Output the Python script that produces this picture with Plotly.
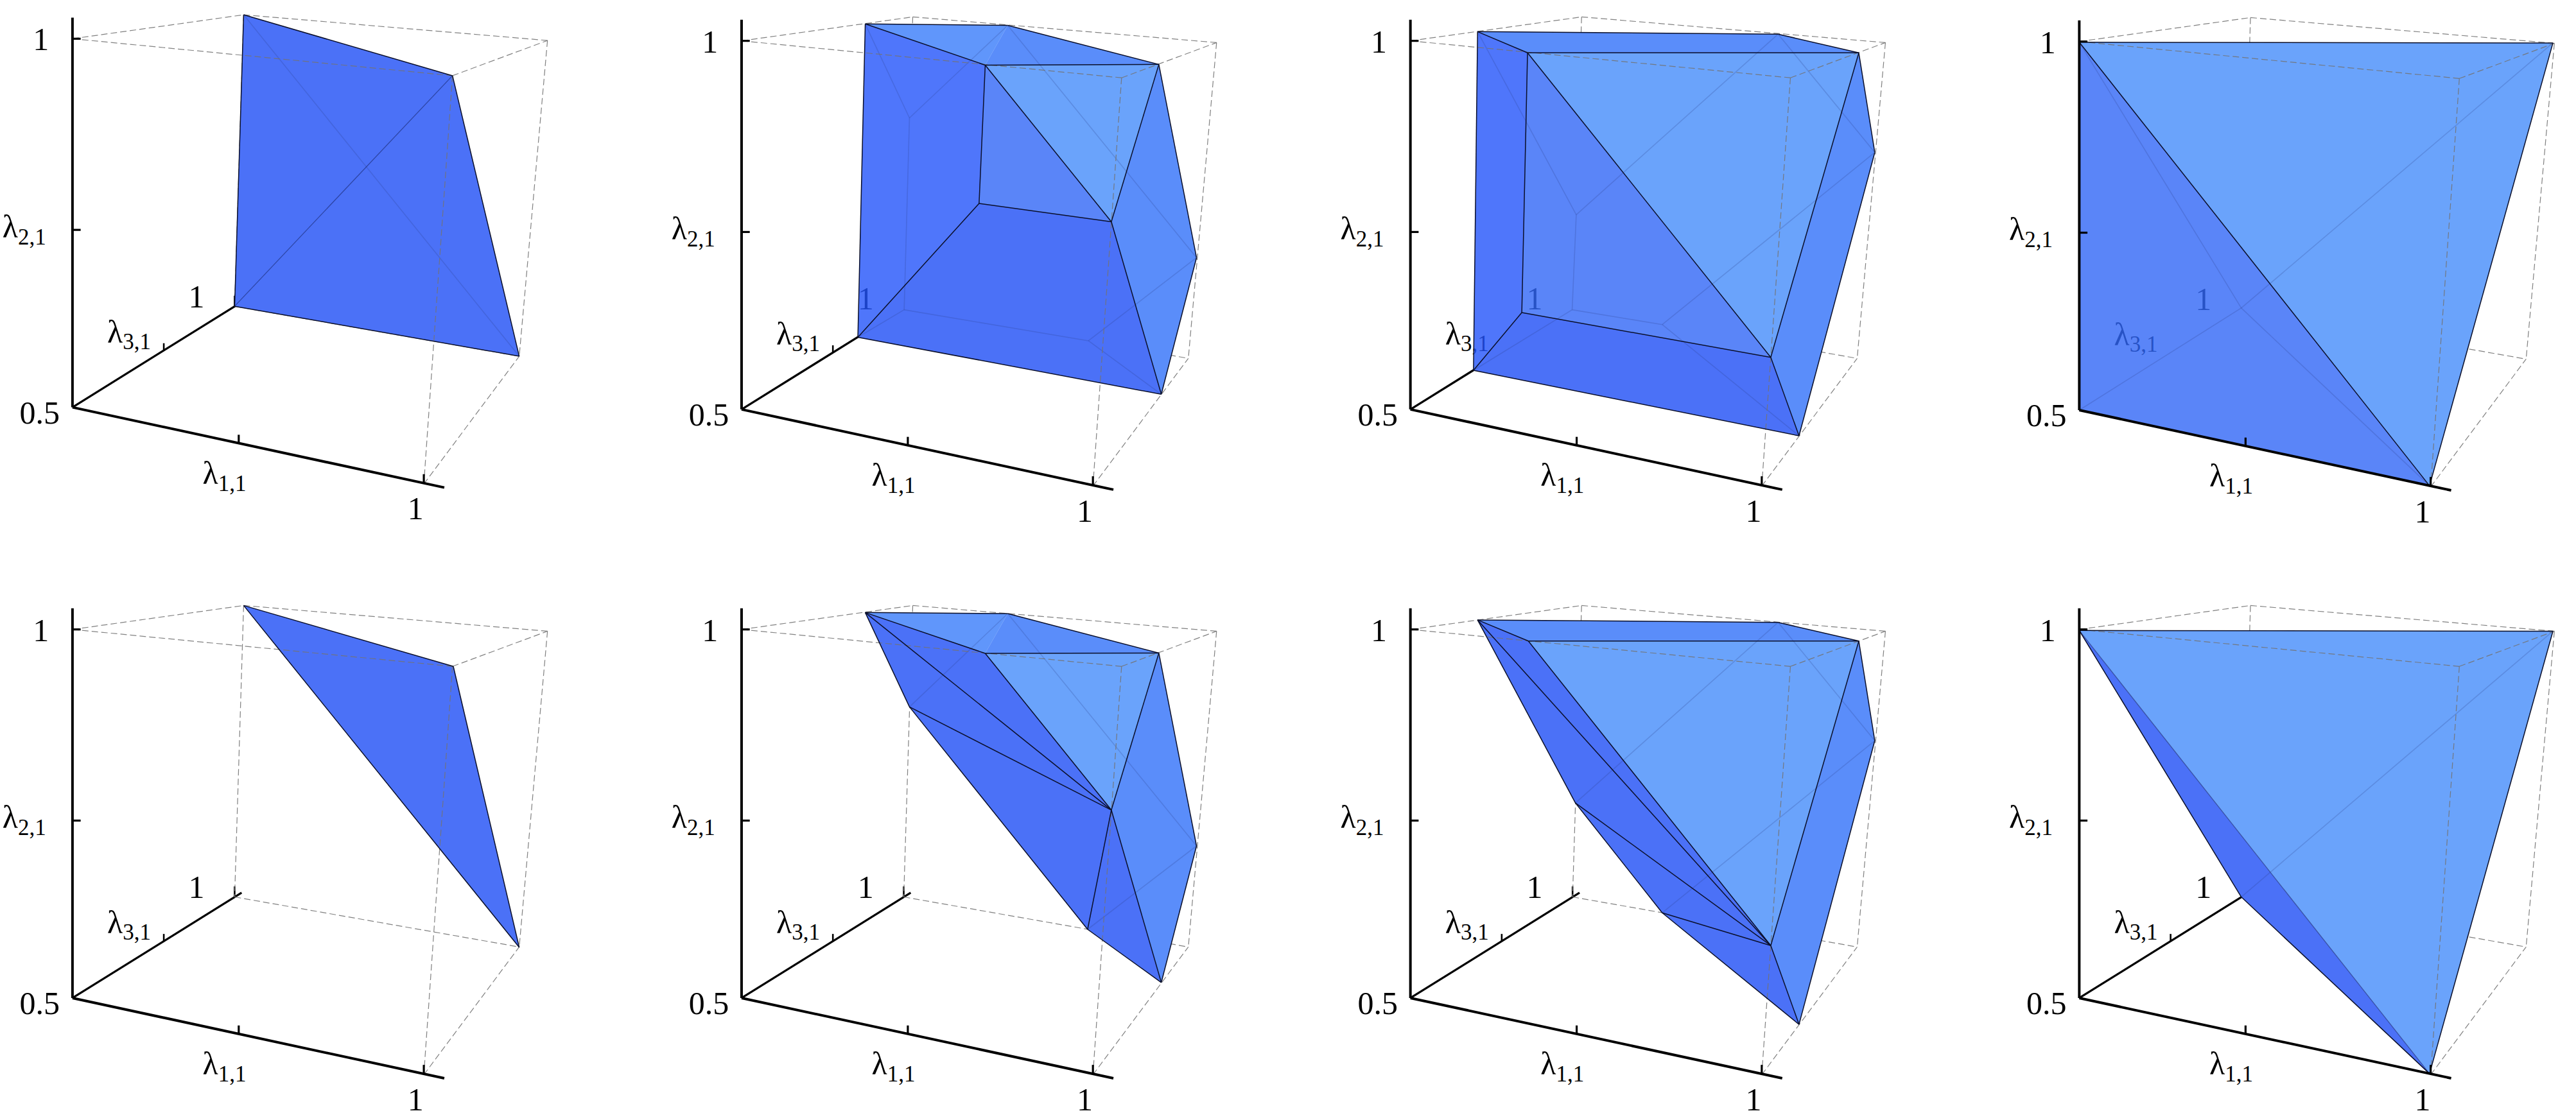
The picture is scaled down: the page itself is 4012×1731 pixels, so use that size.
import plotly.graph_objects as go

W, H = 4012, 1731
FONT = "Liberation Serif"

# crop windows of the panels (left, top, width, height) in figure pixels; each axis runs 0..1568
windows = [(0, 0, 1000, 860), (1000, 0, 1000, 860), (2020, 0, 1000, 860), (3040, 0, 972, 860),
           (0, 871, 1000, 860), (1000, 871, 1000, 860), (2020, 871, 1000, 860), (3040, 871, 972, 860)]

# position of the (0.5, 0.5, 0.5) corner in every panel
origins_x = [177, 243, 277, 320, 177, 243, 277, 320]
origins_y = [1157, 1163, 1163, 1165, 1247, 1247, 1247, 1247]
x_stretch = [1, 1, 1, 1.029, 1, 1, 1, 1.029]

# cube seen from the corner, relative to the origin
box_top_left = (0, -1047)
box_top_back = (418, -1115)
box_top_right = (1160, -1042)
box_top_front = (928, -942)
box_bottom_front = (858, 218)
box_bottom_right = (1091, -145)
box_bottom_back = (396, -287)

box_back_edges = [(box_top_left, box_top_back), (box_top_back, box_top_right),
                  (box_top_right, box_bottom_right), (box_top_back, box_bottom_back),
                  (box_bottom_back, box_bottom_right)]
box_front_edges = [(box_top_left, box_top_front), (box_top_front, box_top_right),
                   (box_top_front, box_bottom_front), (box_bottom_front, box_bottom_right)]

front_axis_lines = [((0, -1107), (0, 0)), ((0, 0), (908, 228))]
front_ticks = [((0, -1047), (20, -1047)), ((0, -504), (20, -504)),
               ((406, 78), (406, 103)), ((858, 190), (858, 216))]
back_axis_line = ((0, 0), (413, -299))
back_ticks = [((223, -182), (223, -162)), ((396, -317), (396, -287))]
label_text = ["1", "λ<sub>2,1</sub>", "0.5", "1", "λ<sub>3,1</sub>", "λ<sub>1,1</sub>", "1"]
label_pos = [(-77, -1037), (-118, -505), (-80, 23), (303, -307), (138, -207), (371, 195), (838, 296)]

# colours on a white page
DARK, LEFT, MID, SLATE, TOP, LIGHT = "#4b71f7", "#4f76fb", "#5a8dfa", "#5a85f8", "#6096fb", "#6aa3fb"

p1_v = dict(a=(595, 42), b=(1105, 215), c=(1268, 1012), d=(573, 870))
p1_faces = [("abcd", DARK)]
p1_edges = ["ab", "bc", "cd", "da"]
p1_thin = [("b", "d")]
p1_faint = [("a", "c")]

p2_v = dict(a=(545, 68), b=(893, 72), c=(1262, 183), d=(838, 185), e=(1146, 630), f=(823, 578),
            g=(527, 958), h=(1268, 1120), i=(1354, 732), p=(653, 335), q=(640, 880), r=(1090, 968), s=(1200, 860))
p2_faces = [("adfg", LEFT), ("abd", TOP), ("bcd", MID), ("dce", LIGHT), ("def", SLATE), ("fehg", DARK), ("cihe", MID)]
p2_edges = ["ab", "bc", "ci", "ih", "hg", "ga", "ad", "dc", "df", "de", "ce", "ef", "fg", "eh"]
p2_thin = []
p2_faint = [("a", "p"), ("p", "b"), ("p", "q"), ("q", "g"), ("q", "r"), ("r", "h"), ("r", "i"), ("b", "i")]

p3_v = dict(a=(441, 90), b=(1175, 97), c=(1372, 150), d=(563, 150), e=(1157, 1015), f=(549, 888),
            g=(431, 1052), h=(1226, 1238), i=(1411, 433), p=(682, 610), q=(672, 880), r=(892, 922))
p3_faces = [("adfg", LEFT), ("abcd", MID), ("dce", LIGHT), ("def", SLATE), ("fehg", DARK), ("cihe", MID)]
p3_edges = ["ab", "bc", "ci", "ih", "hg", "ga", "ad", "dc", "df", "de", "ce", "ef", "fg", "eh"]
p3_thin = []
p3_faint = [("a", "p"), ("p", "b"), ("p", "q"), ("q", "g"), ("q", "r"), ("r", "h"), ("r", "i"), ("b", "i")]

p4_v = dict(a=(320, 120), c=(1510, 122), h=(1200, 1380), o=(320, 1165), m=(727, 875))
p4_faces = [("ach", LIGHT), ("aho", SLATE)]
p4_edges = ["ac", "ch", "ho", "oa", "ah"]
p4_thin = []
p4_faint = [("a", "m"), ("m", "c"), ("m", "o"), ("m", "h")]

p5_v = dict(a=(595, 132), b=(1107, 305), c=(1268, 1103))
p5_faces = [("abc", DARK)]
p5_edges = ["ab", "bc", "ca"]
p5_thin = []
p5_faint = []

p6_v = dict(a=(545, 152), b=(893, 155), c=(1262, 267), d=(838, 268), e=(1146, 713), j=(653, 420),
            k=(1088, 1052), h=(1268, 1203), i=(1354, 815), s=(1200, 945))
p6_faces = [("abd", TOP), ("bcd", MID), ("dce", LIGHT), ("cihe", MID), ("ade", DARK), ("aej", DARK), ("jek", DARK), ("keh", DARK)]
p6_edges = ["ab", "bc", "ci", "ih", "hk", "kj", "ja", "ad", "dc", "de", "ce", "eh", "ae", "je", "ke"]
p6_thin = []
p6_faint = [("b", "j"), ("b", "i"), ("k", "i")]

p7_v = dict(a=(441, 173), b=(1175, 180), c=(1372, 233), d=(565, 233), e=(1157, 1098), j=(680, 693),
            k=(892, 1005), h=(1226, 1322), i=(1411, 516))
p7_faces = [("abcd", MID), ("dce", LIGHT), ("cihe", MID), ("ade", DARK), ("aej", DARK), ("jek", DARK), ("keh", DARK)]
p7_edges = ["ab", "bc", "ci", "ih", "hk", "kj", "ja", "ad", "dc", "de", "ce", "eh", "ae", "je", "ke"]
p7_thin = []
p7_faint = [("b", "j"), ("b", "i"), ("k", "i")]

p8_v = dict(a=(320, 203), c=(1510, 205), h=(1200, 1462), m=(727, 960))
p8_faces = [("ach", LIGHT), ("ahm", DARK)]
p8_edges = ["ac", "ch", "hm", "ma"]
p8_thin = [("a", "h")]
p8_faint = [("m", "c")]

panels = [(p1_v, p1_faces, p1_edges, p1_thin, p1_faint), (p2_v, p2_faces, p2_edges, p2_thin, p2_faint),
          (p3_v, p3_faces, p3_edges, p3_thin, p3_faint), (p4_v, p4_faces, p4_edges, p4_thin, p4_faint),
          (p5_v, p5_faces, p5_edges, p5_thin, p5_faint), (p6_v, p6_faces, p6_edges, p6_thin, p6_faint),
          (p7_v, p7_faces, p7_edges, p7_thin, p7_faint), (p8_v, p8_faces, p8_edges, p8_thin, p8_faint)]


ALPHA = 0.8


def see_through(hex_colour):
    """Fill colour which shows hex_colour once laid over white at ALPHA."""
    t = [int(hex_colour[i:i + 2], 16) for i in (1, 3, 5)]
    r, g, b = [max(0, round((v - 255 * (1 - ALPHA)) / ALPHA)) for v in t]
    return f"rgba({r},{g},{b},{ALPHA})"


fig = go.Figure()
layout = dict(width=W, height=H, margin=dict(l=0, r=0, t=0, b=0), autosize=False,
              paper_bgcolor="white", plot_bgcolor="rgba(0,0,0,0)", showlegend=False)


def line(ax, ay, pts, color, width, dash="solid"):
    fig.add_trace(go.Scatter(x=[p[0] for p in pts], y=[p[1] for p in pts], mode="lines", xaxis=ax, yaxis=ay,
                             line=dict(color=color, width=width, dash=dash), hoverinfo="skip", cliponaxis=False))


def face(ax, ay, pts, fillcolor):
    fig.add_trace(go.Scatter(x=[p[0] for p in pts], y=[p[1] for p in pts], mode="lines", fill="toself",
                             fillcolor=fillcolor, line=dict(width=0), xaxis=ax, yaxis=ay,
                             hoverinfo="skip", cliponaxis=False))


DASH = "10px,5px"
for n, (win, (verts, faces, edges, thin, faint)) in enumerate(zip(windows, panels)):
    ax, ay = f"x{n + 1}", f"y{n + 1}"
    left, top, w, h = win
    layout[f"xaxis{n + 1}"] = dict(domain=[left / W, (left + w) / W], range=[0, 1568], visible=False,
                                   anchor=ay, fixedrange=True)
    layout[f"yaxis{n + 1}"] = dict(domain=[1 - (top + h) / H, 1 - top / H], range=[1568, 0], visible=False,
                                   anchor=ax, fixedrange=True)
    ox, oy, sx = origins_x[n], origins_y[n], x_stretch[n]

    def place(p):
        return (ox + p[0] * sx, oy + p[1])

    # back of the cube and the third axis are fully hidden by the solid
    line(ax, ay, [place(back_axis_line[0]), place(back_axis_line[1])], "black", 3.2)
    for a, b in back_ticks:
        line(ax, ay, [place(a), place(b)], "black", 2.6)
    for a, b in box_back_edges:
        line(ax, ay, [place(a), place(b)], "#808080", 1.2, DASH)
    for names, colour in faces:
        face(ax, ay, [verts[k] for k in names], "white")
    # labels show through the translucent solid
    fig.add_trace(go.Scatter(x=[place(p)[0] for p in label_pos], y=[place(p)[1] for p in label_pos],
                             mode="text", text=label_text, textposition="middle center", xaxis=ax, yaxis=ay,
                             textfont=dict(family=FONT, size=50, color="black"), hoverinfo="skip", cliponaxis=False))
    # solid
    for names, colour in faces:
        face(ax, ay, [verts[k] for k in names], see_through(colour))
    for a, b in faint:
        line(ax, ay, [verts[a], verts[b]], "rgba(40,60,130,0.22)", 1.6)
    for a, b in thin:
        line(ax, ay, [verts[a], verts[b]], "rgba(25,40,110,0.6)", 1.3)
    for a, b in box_front_edges:
        line(ax, ay, [place(a), place(b)], "rgba(115,115,115,0.9)", 1.2, DASH)
    for e in edges:
        line(ax, ay, [verts[e[0]], verts[e[1]]], "#0a0f2a", 1.5)
    # first two axes stay in front
    for a, b in front_axis_lines:
        line(ax, ay, [place(a), place(b)], "black", 4)
    for a, b in front_ticks:
        line(ax, ay, [place(a), place(b)], "black", 3.2)

fig.update_layout(**layout)
fig.write_html("out.html", config=dict(displayModeBar=False), post_script="document.body.style.margin='0';")
